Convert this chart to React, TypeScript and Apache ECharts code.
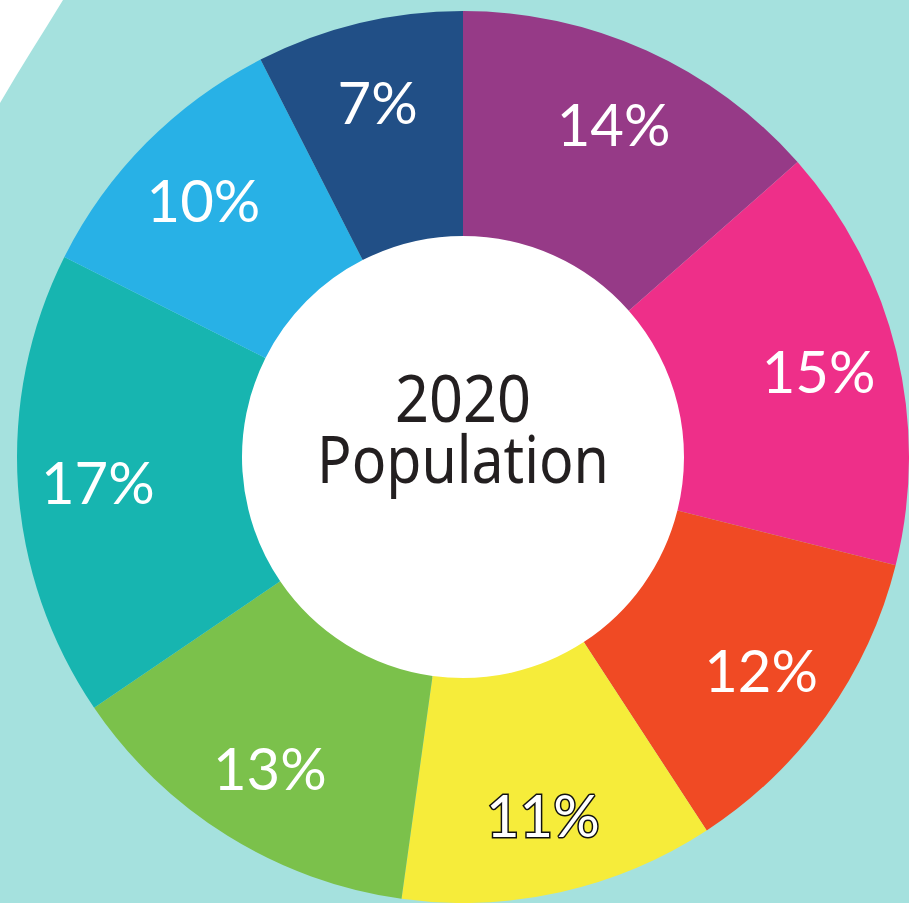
import React, { useEffect, useRef } from "react";
import * as echarts from "echarts";

const categories = ["A", "B", "C", "D", "E", "F", "G", "H"];
const shares = [13.5, 15.4, 11.9, 11.4, 13.3, 16.9, 10.1, 7.5];
const labels = ["14%", "15%", "12%", "11%", "13%", "17%", "10%", "7%"];
const colors = ["#963a87", "#ee2f89", "#f04a24", "#f6ec3a", "#7bc14b", "#17b5b0", "#28b1e6", "#214f86"];
const centerLines = ["2020", "Population"];

export default function App() {
  const ref = useRef<HTMLDivElement>(null);
  useEffect(() => {
    if (!ref.current) return;
    const chart = echarts.init(ref.current, null, { renderer: "svg" });
    const cx = 463;
    const cy = 457;
    const slices = categories.map((c, i) => ({
      name: c,
      value: shares[i],
      itemStyle: { color: colors[i] },
    }));
    const labelItems = categories.map((c, i) => ({
      name: c,
      value: shares[i],
      label:
        i === 3
          ? { formatter: labels[i], color: "#ffffff", textBorderColor: "#111111", textBorderWidth: 3 }
          : { formatter: labels[i] },
    }));
    chart.setOption({
      animation: false,
      backgroundColor: "#a5e1de",
      graphic: [
        {
          type: "polygon",
          z: -10,
          shape: { points: [[0, 0], [63, 0], [47, 26], [32, 50], [16, 76], [0, 103]] },
          style: { fill: "#ffffff" },
        },
        {
          type: "circle",
          z: -10,
          shape: { cx: cx, cy: cy, r: 223 },
          style: { fill: "#ffffff" },
        },
        {
          type: "text",
          z: 100,
          x: cx,
          y: 396,
          scaleX: 0.9,
          style: {
            text: centerLines[0],
            fontFamily: "Noto Sans",
            fontSize: 66,
            fill: "#231f20",
            align: "center",
            verticalAlign: "middle",
          },
        },
        {
          type: "text",
          z: 100,
          x: cx,
          y: 458,
          scaleX: 0.88,
          style: {
            text: centerLines[1],
            fontFamily: "Noto Sans",
            fontSize: 65,
            fill: "#231f20",
            align: "center",
            verticalAlign: "middle",
          },
        },
      ],
      series: [
        {
          type: "pie",
          center: [cx, cy],
          radius: [221, 446],
          startAngle: 90,
          clockwise: true,
          label: { show: false },
          labelLine: { show: false },
          silent: true,
          data: slices,
        },
        {
          type: "pie",
          center: [cx, cy],
          radius: [280, 446],
          startAngle: 90,
          clockwise: true,
          silent: true,
          itemStyle: { color: "rgba(0,0,0,0)" },
          label: {
            show: true,
            position: "inside",
            color: "#ffffff",
            fontFamily: "Lato",
            fontSize: 58,
          },
          labelLine: { show: false },
          data: labelItems,
        },
      ],
    });
    return () => chart.dispose();
  }, []);
  return (
    <div
      ref={ref}
      style={{ position: "fixed", left: 0, top: 0, width: 909, height: 903 }}
    />
  );
}
